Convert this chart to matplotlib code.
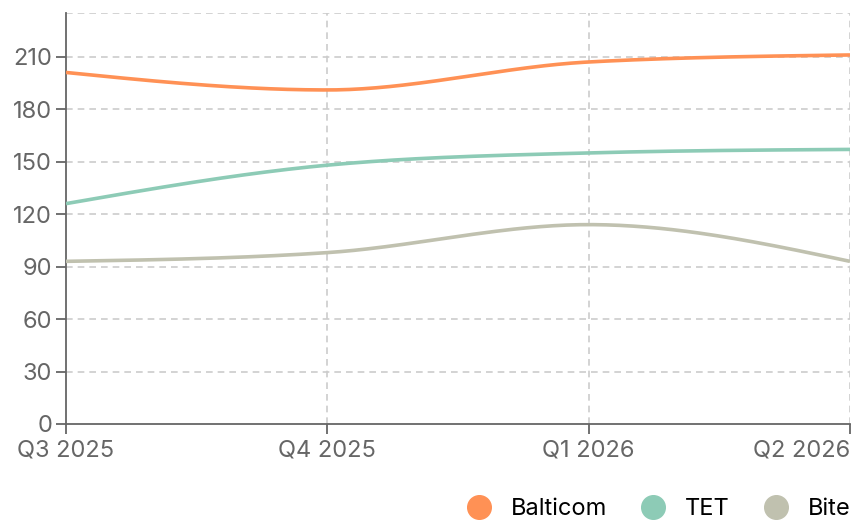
import numpy as np
from matplotlib import pyplot as plt
from matplotlib.lines import Line2D

plt.rcParams['font.family'] = ['Inter', 'DejaVu Sans']

quarters = ['Q3 2025', 'Q4 2025', 'Q1 2026', 'Q2 2026']
balticom = [201, 191, 207, 211]
tet = [126, 148, 155, 157]
bite = [93, 98, 114, 93]

series = [('Balticom', balticom, '#FF9155'),
          ('TET', tet, '#8DCBB6'),
          ('Bite', bite, '#C0C1AF')]


def monotone(xs, ys, n=60):
    # monotone cubic (like d3 curveMonotoneX)
    xs = np.asarray(xs, float)
    ys = np.asarray(ys, float)
    h = np.diff(xs)
    s = np.diff(ys) / h
    m = np.zeros(len(xs))
    for i in range(1, len(xs) - 1):
        if s[i - 1] * s[i] <= 0:
            m[i] = 0
        else:
            p = (s[i - 1] * h[i] + s[i] * h[i - 1]) / (h[i - 1] + h[i])
            m[i] = (np.sign(s[i - 1]) + np.sign(s[i])) * min(abs(s[i - 1]), abs(s[i]), 0.5 * abs(p))
    m[0] = (3 * s[0] - m[1]) / 2
    m[-1] = (3 * s[-1] - m[-2]) / 2
    out_x, out_y = [], []
    for i in range(len(xs) - 1):
        t = np.linspace(0, 1, n)
        h00 = 2 * t**3 - 3 * t**2 + 1
        h10 = t**3 - 2 * t**2 + t
        h01 = -2 * t**3 + 3 * t**2
        h11 = t**3 - t**2
        out_x.extend(xs[i] + t * h[i])
        out_y.extend(h00 * ys[i] + h10 * h[i] * m[i] + h01 * ys[i + 1] + h11 * h[i] * m[i + 1])
    return out_x, out_y


fig = plt.figure(figsize=(8.68, 5.22), dpi=100)
ax = fig.add_axes([66 / 868, 1 - 424 / 522, (850 - 66) / 868, (424 - 13) / 522])

x = np.arange(len(quarters))
for name, vals, col in series:
    sx, sy = monotone(x, vals)
    ax.plot(sx, sy, color=col, lw=2.6, solid_capstyle='butt', zorder=3)

ax.set_xlim(0, len(quarters) - 1)
ax.set_ylim(0, 235)
ax.set_xticks(x)
ax.set_xticklabels(quarters)
ax.set_yticks(range(0, 211, 30))

grid_kw = dict(color='#CCCCCC', lw=1.2, ls=(0, (4, 3)), zorder=1)
for yv in list(range(30, 211, 30)) + [235]:
    ax.axhline(yv, **grid_kw)
for xv in x[1:]:
    ax.axvline(xv, **grid_kw)

for side in ['top', 'right']:
    ax.spines[side].set_visible(False)
for side in ['left', 'bottom']:
    ax.spines[side].set_color('#666666')
    ax.spines[side].set_linewidth(1.3)
ax.tick_params(axis='both', colors='#666666', labelsize=17, length=7, width=1.3, pad=3)
ax.tick_params(axis='x', pad=4)
for lbl in ax.get_xticklabels() + ax.get_yticklabels():
    lbl.set_color('#666666')
ax.get_xticklabels()[-1].set_horizontalalignment('right')
ax.get_xticklabels()[-1].set_x(len(quarters) - 1)

handles = [Line2D([], [], ls='', marker='o', ms=17, color=c, label=n) for n, v, c in series]
fig.legend(handles=handles, loc='center right', bbox_to_anchor=(860 / 868, 13 / 522),
           ncol=3, frameon=False, fontsize=17, handletextpad=0.35, columnspacing=0.95,
           borderaxespad=0.0)

fig.savefig('out.png', dpi=100)
